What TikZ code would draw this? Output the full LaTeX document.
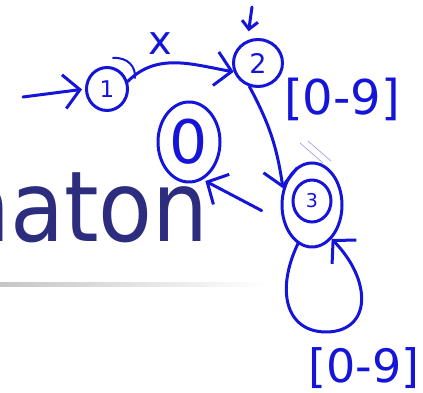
\documentclass[tikz,border=0pt]{standalone}
\usepackage{fontspec}
\setmainfont{DejaVu Sans}
\usetikzlibrary{arrows.meta,shapes.geometric}
\definecolor{pen}{HTML}{1515D9}
\definecolor{slide}{HTML}{2D2D7F}
\tikzset{
  ink/.style={draw=pen,line width=3pt,line cap=round,line join=round},
  barb/.style={-{Straight Barb[length=16pt,width=34pt]}},
  smallbarb/.style={-{Straight Barb[length=8pt,width=16pt]}},
  state/.style={ellipse,draw=pen,line width=3pt,inner sep=0pt,text=pen},
  lbl/.style={text=pen,inner sep=0pt}
}
\newcommand{\fs}[1]{\fontsize{#1}{#1}\selectfont}

\begin{document}
\begin{tikzpicture}[x=1pt,y=1pt]
\useasboundingbox (0,0) rectangle (423,393);
\clip (0,0) rectangle (423,393);
% slide behind the ink
\node[anchor=base east,inner sep=0pt,text=slide,font=\fs{98},xscale=0.9,transform shape] (title) at (209,151) {naton};
\shade[left color=gray!45,middle color=gray!20,right color=white] (0,106) rectangle (268,110);
% states
\node[state,minimum width=41pt,minimum height=43pt,font=\fs{23}] (s1) at (107,304) {1};
\node[state,minimum width=49pt,minimum height=47pt,font=\fs{27}] (s2) at (258,330) {2};
\node[state,minimum width=60pt,minimum height=84pt] (s3) at (312,188) {};
\node[state,minimum width=38pt,minimum height=42pt,font=\fs{19}] (s3in) at (312,192) {3};
\node[state,minimum width=62pt,minimum height=80pt,font=\fs{60}] (s0) at (189,251) {0};
\draw[pen,line width=2pt,line cap=round] (113,335) .. controls (128,336) and (136,326) .. (135,315);
% moves
\coordinate (in1) at (23,296);
\draw[ink,barb,shorten >=3pt] (in1) -- (s1.west);
\draw[ink,barb] (s1.20) to[out=45,in=170] (s2.200);
\node[lbl,font=\fs{40}] (xlab) at (160,349) {x};
\coordinate (in2) at (252,386);
\draw[ink,smallbarb,shorten >=9pt] (in2) -- (s2.115);
\draw[ink,barb] (s2.250) to[bend left=10] (s3.150);
\node[lbl,font=\fs{48}] (digA) at (342,294) {[0-9]};
\draw[ink,barb,shorten <=24pt,shorten >=3pt] (s3.210) -- (s0.290);
\coordinate (loopbot) at (328,61);
\draw[ink,barb] (s3.250) .. controls +(-22,-46) and +(-43,-1) .. (loopbot)
  .. controls +(44,2) and +(40,-41) .. (s3.300);
\node[lbl,font=\fs{46}] (digB) at (364,25) {[0-9]};
% stray hairlines
\draw[pen!45,line width=0.6pt] (300,250) -- (323,230) (308,252) -- (331,232);
\end{tikzpicture}
\end{document}
